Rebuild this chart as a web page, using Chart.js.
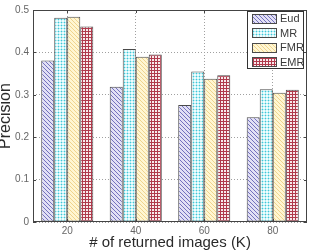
<!DOCTYPE html>
<html>
<head>
<meta charset="utf-8">
<title>Precision</title>
<script src="https://cdn.jsdelivr.net/npm/chart.js"></script>
<style>
  html, body { margin: 0; padding: 0; background: #fff; }
  #wrap { width: 313px; height: 252px; }
</style>
</head>
<body>
<div id="wrap"><canvas id="grafico" width="313" height="252"></canvas></div>
<script>
// ================= DATOS =================
const categories = ['20', '40', '60', '80'];
const eud = [0.381, 0.319, 0.276, 0.247];
const mr  = [0.482, 0.408, 0.355, 0.313];
const fmr = [0.484, 0.390, 0.338, 0.305];
const emr = [0.461, 0.395, 0.346, 0.312];
const yTicks = [0, 0.1, 0.2, 0.3, 0.4, 0.5];

const FONT = '"Liberation Sans", Arial, Helvetica, sans-serif';

// ================= TRAMAS =================
function pattern(kind) {
  const c = document.createElement('canvas');
  const s = kind === 'mr' || kind === 'emr' ? 3 : 4;
  c.width = s; c.height = s;
  const g = c.getContext('2d');
  if (kind === 'eud' || kind === 'fmr') {
    g.fillStyle = kind === 'eud' ? '#e2e0f5' : '#fff6d2';
    g.fillRect(0, 0, s, s);
    g.fillStyle = kind === 'eud' ? '#7472bd' : '#efd48e';
    for (let i = 0; i < s; i++) g.fillRect(i, i, 1, 1); // diagonal \
  } else if (kind === 'mr') {
    g.fillStyle = '#effcfd';
    g.fillRect(0, 0, s, s);
    g.fillStyle = '#b5ecf2';
    g.fillRect(0, 1, s, 1);
    g.fillRect(1, 0, 1, s);
    g.fillStyle = '#3fc6d8';
    g.fillRect(1, 1, 1, 1);
  } else {
    g.fillStyle = '#f8eaec';
    g.fillRect(0, 0, s, s);
    g.fillStyle = '#b03a4c';
    g.fillRect(0, 1, s, 1);
    g.fillRect(1, 0, 1, s);
  }
  return document.getElementById('grafico').getContext('2d').createPattern(c, 'repeat');
}

function serie(label, data, kind) {
  return {
    label, data,
    backgroundColor: pattern(kind),
    borderColor: '#4a4a4a',
    borderWidth: 1,
    borderSkipped: false,
    barPercentage: 1,
    categoryPercentage: 0.76
  };
}

// ================= MARCO, MARCAS Y LEYENDA =================
const matlabAxes = {
  id: 'matlabAxes',
  afterDatasetsDraw(chart) {
    const { ctx, chartArea: a, scales: { x, y } } = chart;
    ctx.save();
    ctx.strokeStyle = '#444';
    ctx.lineWidth = 1;
    ctx.strokeRect(Math.round(a.left) + 0.5, Math.round(a.top) + 0.5,
                   Math.round(a.right - a.left) - 1, Math.round(a.bottom - a.top) - 1);
    ctx.beginPath();
    // marcas hacia dentro
    y.ticks.forEach((t, i) => {
      const py = Math.round(y.getPixelForTick(i)) + 0.5;
      ctx.moveTo(a.left, py); ctx.lineTo(a.left + 3, py);
      ctx.moveTo(a.right, py); ctx.lineTo(a.right - 3, py);
    });
    x.ticks.forEach((t, i) => {
      const px = Math.round(x.getPixelForTick(i)) + 0.5;
      ctx.moveTo(px, a.top); ctx.lineTo(px, a.top + 3);
      ctx.moveTo(px, a.bottom); ctx.lineTo(px, a.bottom - 3);
    });
    ctx.stroke();

    // leyenda
    const lx = 247, ly = 11, lw = 57, lh = 58;
    ctx.fillStyle = '#fff';
    ctx.fillRect(lx, ly, lw, lh);
    ctx.strokeStyle = '#333';
    ctx.strokeRect(lx + 0.5, ly + 0.5, lw - 1, lh - 1);
    ctx.font = '11px ' + FONT;
    ctx.textBaseline = 'middle';
    ctx.textAlign = 'left';
    chart.data.datasets.forEach((ds, i) => {
      const cy = ly + 7.5 + i * 14.5;
      ctx.fillStyle = ds.backgroundColor;
      ctx.fillRect(252, Math.round(cy - 5), 25, 10);
      ctx.strokeStyle = '#4a4a4a';
      ctx.strokeRect(252.5, Math.round(cy - 5) + 0.5, 24, 9);
      ctx.fillStyle = '#3a3a3a';
      ctx.fillText(ds.label, 280, cy + 0.5);
    });
    ctx.restore();
  }
};

// ================= GRÁFICO =================
new Chart(document.getElementById('grafico'), {
  type: 'bar',
  data: {
    labels: categories,
    datasets: [
      serie('Eud', eud, 'eud'),
      serie('MR', mr, 'mr'),
      serie('FMR', fmr, 'fmr'),
      serie('EMR', emr, 'emr')
    ]
  },
  options: {
    responsive: false,
    animation: false,
    devicePixelRatio: 1,
    layout: { padding: { top: 7, right: 6, left: 0, bottom: 0 } },
    plugins: { legend: { display: false }, tooltip: { enabled: false } },
    scales: {
      x: {
        grid: { offset: false, color: '#a0a0a0', drawTicks: false, lineWidth: 1 },
        border: { display: false, dash: [1, 2] },
        ticks: { color: '#666', padding: 3, font: { family: FONT, size: 10 } },
        title: {
          display: true, text: '# of returned images (K)', color: '#2a2a2a',
          padding: 0, font: { family: FONT, size: 15, lineHeight: 1.2 }
        },
        afterFit(s) { s.height = 30; }
      },
      y: {
        min: 0, max: 0.5,
        afterBuildTicks(s) { s.ticks = yTicks.map(v => ({ value: v })); },
        grid: { color: '#a0a0a0', drawTicks: false, lineWidth: 1 },
        border: { display: false, dash: [1, 2] },
        ticks: {
          color: '#666', padding: 4, font: { family: FONT, size: 10 },
          callback: v => v === 0 ? '0' : v.toFixed(1)
        },
        title: {
          display: true, text: 'Precision', color: '#2a2a2a',
          padding: 0, font: { family: FONT, size: 16, lineHeight: 0.75 }
        },
        afterFit(s) { s.width = 33; }
      }
    }
  },
  plugins: [matlabAxes]
});
</script>
</body>
</html>
